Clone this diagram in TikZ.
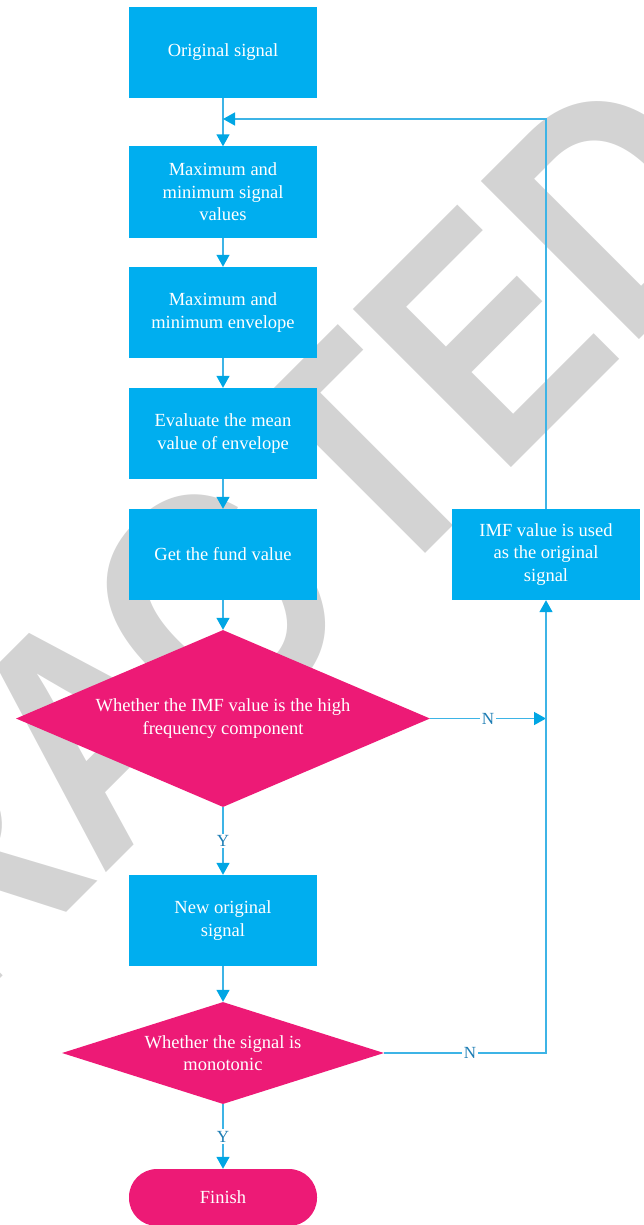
\documentclass[tikz,border=0pt]{standalone}
\usepackage{fontspec}
\usepackage{graphicx}
\setmainfont{Liberation Serif}
\newfontfamily\wmfont{Liberation Sans}
\usetikzlibrary{arrows.meta,shapes.geometric}
\definecolor{boxblue}{HTML}{00AEEF}
\definecolor{pinkc}{HTML}{ED1A76}
\definecolor{lineblue}{HTML}{3DB4E6}
\definecolor{tipblue}{HTML}{00A6E4}
\definecolor{lblblue}{HTML}{1D7DB4}
\definecolor{wmgray}{HTML}{D3D3D3}
\begin{document}
\begin{tikzpicture}[x=1pt,y=1pt,
  txt/.style={font=\fontsize{18.5}{22.5}\selectfont, text=white, align=center},
  procbox/.style={txt, fill=boxblue, minimum width=188pt, minimum height=91pt, inner sep=0pt},
  decision/.style={txt, diamond, fill=pinkc, inner sep=0pt},
  terminal/.style={txt, fill=pinkc, rounded corners=28pt, minimum width=188pt, minimum height=57pt, inner sep=0pt},
  conn/.style={draw=lineblue, line width=1.5pt},
  arr/.style={conn, -{Triangle[length=12pt,width=13pt,color=tipblue]}},
  lbl/.style={font=\fontsize{17}{20}\selectfont, text=lblblue, fill=white, inner sep=1.5pt},
  watermark/.style={anchor=base west, rotate=45, inner sep=0pt, text=wmgray, font=\wmfont\bfseries\fontsize{325}{325}\selectfont}
]
\useasboundingbox (0,0) rectangle (643,-1225);
% watermark
\node[watermark] (wm) at (-424,-1403) {\scalebox{0.84}[1]{RETRA\kern-32pt C\kern32pt TED}};
% nodes
\node[procbox] (b1) at (223,-52.5) {Original signal};
\node[procbox] (b2) at (223,-192) {Maximum and\\minimum signal\\values};
\node[procbox] (b3) at (223,-312.5) {Maximum and\\minimum envelope};
\node[procbox] (b4) at (223,-433.5) {Evaluate the mean\\value of envelope};
\node[procbox] (b5) at (223,-554.5) {Get the fund value};
\node[decision, minimum width=414pt, minimum height=177pt, aspect=2.34] (d1) at (223,-718.5) {Whether the IMF value is the high\\frequency component};
\node[procbox] (b6) at (223,-920.5) {New original\\signal};
\node[decision, minimum width=322pt, minimum height=102pt, aspect=3.16] (d2) at (223,-1053) {Whether the signal is\\monotonic};
\node[terminal] (fin) at (223,-1197.5) {Finish};
\node[procbox] (r) at (546,-554.5) {IMF value is used\\as the original\\signal};
% helper coordinates
\coordinate (j) at (223,-119);
\coordinate (m1) at (r.south |- d1.east);
\coordinate (c2) at (r.south |- d2.east);
\coordinate (c3) at (r.north |- j);
% connectors
\draw[arr] (b1) -- (b2);
\draw[arr] (b2) -- (b3);
\draw[arr] (b3) -- (b4);
\draw[arr] (b4) -- (b5);
\draw[arr] (b5) -- (d1);
\draw[arr] (d1) -- node[lbl]{Y} (b6);
\draw[arr] (b6) -- (d2);
\draw[arr] (d2) -- node[lbl]{Y} (fin);
\draw[arr] (d1.east) -- node[lbl]{N} (m1);
\draw[arr] (d2.east) -- node[lbl,pos=0.53]{N} (c2) -- (r.south);
\draw[arr] (r.north) -- (c3) -- (j);
\end{tikzpicture}
\end{document}
